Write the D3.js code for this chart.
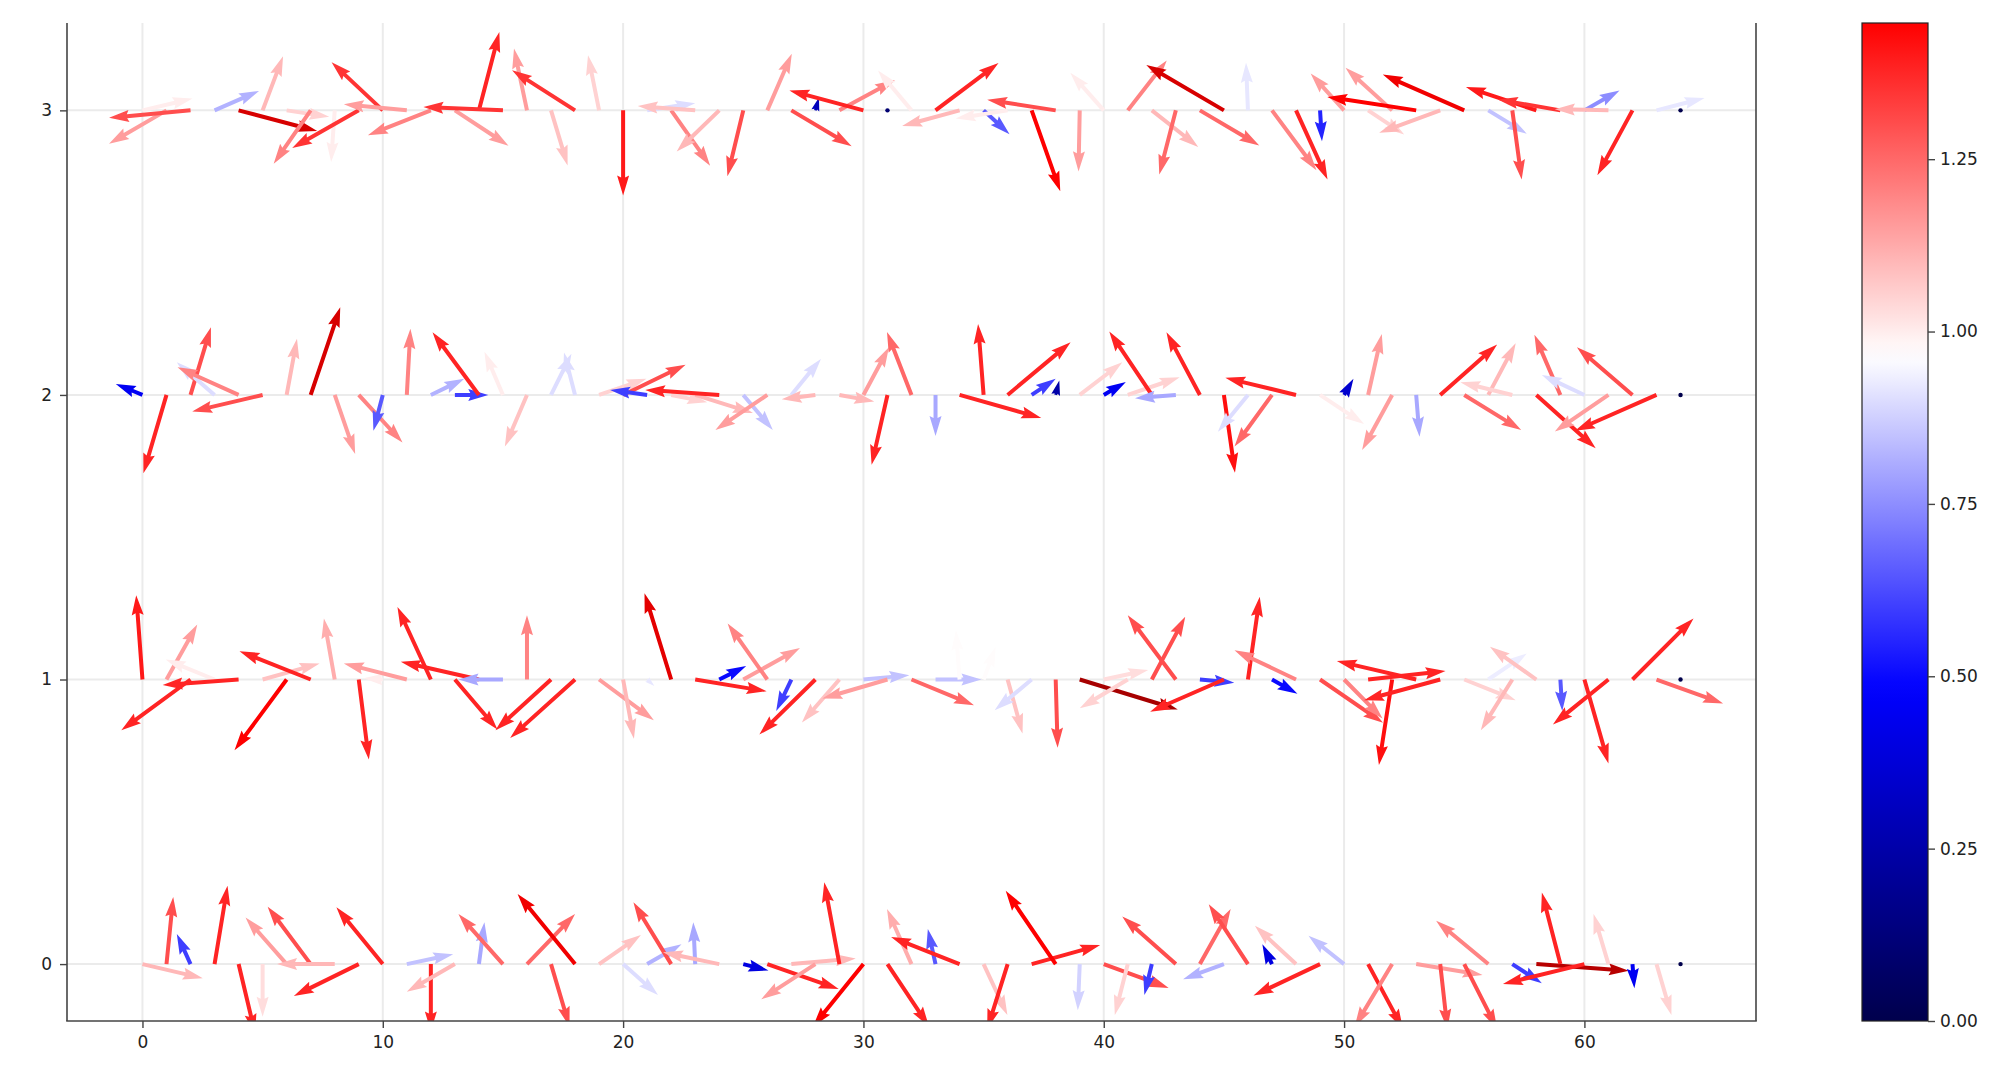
<!DOCTYPE html>
<html>
<head>
<meta charset="utf-8">
<script src="https://cdn.jsdelivr.net/npm/d3@7"></script>
<style>
  body { margin: 0; background: #fff; }
  text { font-family: "DejaVu Sans", sans-serif; }
</style>
</head>
<body>
<div id="chart"></div>
<script>
// grid positions
var xs = d3.range(65);
var rows = [0, 1, 2, 3];

// row y = 0
var u0 = [2.51,0.28,-0.57,0.54,0.69,0,-1.71,-1.79,-2.4,-2.7,-1.93,1.93,0,-2.0,0.23,-1.85,2.0,0.77,-2.39,1.74,
          1.45,1.43,-1.57,-0.08,-2.34,1.05,2.97,2.68,-2.25,-0.63,-2.1,1.73,-1.02,-0.32,-2.85,0.99,-0.85,2.85,-2.08,-0.08,
          2.7,-0.54,-0.31,-2.23,1.28,-1.7,-1.63,-0.4,-1.71,-2.77,-1.48,1.45,-1.56,2.76,0.3,1.37,-2.17,1.23,3.85,-0.77,
          -3.39,-0.62,0.08,0.62,0];
var v0 = [-0.59,2.79,1.25,3.26,-2.9,-2.19,1.94,2.39,0,-1.33,2.36,0.41,-2.8,-1.15,1.74,2.08,2.08,-2.6,2.92,1.21,
          -1.29,0.83,2.57,1.74,0.49,-0.27,-1.04,0.23,-1.46,3.4,-2.6,-2.6,2.29,1.46,1.13,-2.12,-2.7,0.79,3.05,-1.92,
          -0.99,-2.12,-1.29,1.98,2.29,-0.63,2.49,0.83,1.59,-1.31,1.18,-2.7,-2.6,-0.45,-2.7,-2.7,1.8,-0.8,-0.28,2.98,
          -0.83,2.08,-1.01,-2.12,0];
var c0 = [1.1,1.3,0.6,1.38,1.38,1.03,1.15,1.3,1.1,1.38,1.38,0.85,1.38,1.1,0.8,1.25,1.25,1.3,1.5,1.08,
          0.9,0.82,1.3,0.8,1.1,0.4,1.38,1.1,1.15,1.38,1.45,1.38,1.12,0.65,1.38,1.08,1.38,1.38,1.45,0.88,
          1.3,1.05,0.6,1.3,1.25,0.82,1.3,0.4,1.08,1.38,0.85,1.38,1.2,1.15,1.3,1.3,1.2,0.6,1.72,1.38,
          1.38,1.05,0.45,1.05,0];

// row y = 1
var u1 = [-0.26,1.28,-2.88,-2.03,-3.16,2.37,-2.17,-2.96,-0.45,0.42,-0.8,-2.62,-1.39,1.77,-3.25,-1.85,0,-2.31,-2.7,2.28,
          0.45,0.3,-1.11,2.97,1.12,2.36,-1.65,-0.63,-2.33,-1.56,1.91,-2.71,2.6,1.91,-0.15,0.5,0.62,-1.54,0.08,4.08,
          1.85,-2.0,1.39,-2.0,1.43,-3.07,0.49,1.06,-2.56,2.62,1.6,3.22,-0.55,-3.3,-3.17,2.14,1.6,-1.31,-1.93,0.08,
          1.0,-2.31,2.54,2.77,0];
var v1 = [3.51,2.29,-2.11,0.83,-0.23,0.67,-2.94,1.18,2.54,-3.33,0.05,0.67,3.02,-2.08,0.74,0,2.67,-2.11,-2.43,-1.69,
          -2.46,-0.27,3.59,-0.49,0.56,1.31,2.33,-1.31,-2.29,-1.79,0.18,-0.79,-1.07,0,2.05,1.35,-2.25,-1.28,-2.84,-1.25,
          0.4,-1.2,2.61,2.67,-0.13,-1.34,3.44,-0.59,1.22,-1.8,-1.62,0.35,-3.56,0.77,-0.86,-0.86,1.08,-2.11,1.36,-1.31,
          -3.49,-1.87,2.54,-1.0,0];
var c1 = [1.4,1.15,1.38,1.0,1.38,1.08,1.45,1.38,1.12,1.38,1.0,1.15,1.38,1.38,1.38,0.8,1.2,1.38,1.38,1.15,
          1.1,0.92,1.55,1.38,0.5,1.15,1.2,0.6,1.38,1.08,0.85,1.15,1.25,0.85,0.97,0.97,1.08,0.9,1.3,1.78,
          1.03,1.05,1.3,1.3,0.6,1.38,1.38,0.5,1.2,1.3,1.2,1.38,1.42,1.38,1.38,1.05,0.93,1.1,1.08,0.65,
          1.38,1.38,1.38,1.25,0];

// row y = 2
var u2 = [-1.11,-0.96,0.85,-1.57,-2.54,-2.93,0.43,1.23,0.85,1.82,-0.39,0.15,1.39,1.39,-1.93,-0.77,-0.92,0.85,-0.46,1.97,
          2.6,-1.54,1.5,2.4,-3.08,1.23,-2.16,1.23,-1.4,1.45,1.06,-0.66,-1.02,0,3.4,-0.23,2.62,1.0,0.15,1.77,
          0.92,2.16,-1.77,-1.7,-1.39,0.46,-1.25,-1.56,-2.94,1.83,0.39,0.57,-1.25,0.14,2.37,2.37,1.14,-2.16,2.47,-1.08,
          -1.77,-2.23,-2.31,-3.39,0];
var v2 = [0.46,-3.26,2.82,1.36,1.15,-0.69,2.34,3.65,-2.46,-1.98,-1.49,2.75,0.67,0,2.61,1.8,-2.15,1.71,1.77,0.67,
          1.26,0.21,-0.3,-0.75,0.21,-1.46,-1.46,1.5,-0.18,-0.27,1.98,-2.91,2.62,-1.71,-0.96,2.95,2.19,0.67,0.6,1.36,
          0.54,0.74,2.64,-0.14,2.61,-3.24,-1.53,-2.15,0.71,-1.21,0.67,2.54,-2.29,-1.74,2.1,-1.46,2.15,0.53,-2.22,2.5,
          0.83,-1.52,1.98,-1.49,0];
var c2 = [0.45,1.38,1.3,0.9,1.2,1.3,1.1,1.6,1.15,1.2,0.65,1.2,0.82,0.6,1.38,1.0,1.08,0.9,0.9,1.05,
          1.3,0.6,1.05,1.1,1.38,0.85,1.15,0.9,1.1,1.1,1.15,1.38,1.25,0.8,1.38,1.38,1.38,0.6,0.25,1.05,
          0.45,1.05,1.38,0.8,1.38,1.42,0.9,1.25,1.38,1.0,0.35,1.15,1.15,0.8,1.38,1.25,1.1,1.05,1.38,1.25,
          0.9,1.15,1.3,1.38,0];

// row y = 3
var u3 = [2.08,-2.39,-3.39,1.85,3.27,0.85,1.77,-1.54,-0.15,-2.77,-2.13,-2.62,-2.62,2.23,0.85,-3.31,-0.54,0.69,-2.62,-0.46,
          0,2.0,1.62,-2.39,-1.77,-0.66,1.02,2.51,0.15,2.31,-3.08,0,-1.39,2.62,-2.39,1.08,-2.16,1.19,-2.85,-0.05,
          -1.39,1.62,1.93,-0.69,2.47,-3.23,-0.08,1.85,1.31,0.08,-1.39,1.5,-1.94,-3.7,-2.54,-3.39,1.6,0.39,-2.93,-2.6,
          1.46,-2.23,-1.46,2.0,0];
var v3 = [0.49,-1.39,-0.31,0.81,-0.86,2.25,-0.27,-2.22,-2.15,-1.57,2.0,0.25,-1.04,-1.47,3.26,0.14,2.57,-2.29,1.67,2.29,
          -3.54,0.3,-2.3,0.18,-1.71,-2.74,2.36,-1.49,0.54,1.26,0.83,0,1.66,1.97,-0.65,-0.99,-0.34,-3.37,0.44,-2.54,
          1.57,2.08,-1.52,-2.67,-1.46,1.89,1.98,-2.49,-2.88,-1.29,1.53,-1.0,1.77,0.56,-0.93,1.49,-0.97,-2.88,0.97,0.45,
          0.83,0.05,-2.7,0.51,0];
var c3 = [1.0,1.15,1.3,0.82,1.6,1.1,1.05,1.2,1.0,1.35,1.35,1.15,1.2,1.15,1.38,1.35,1.15,1.08,1.35,1.05,
          1.4,0.9,1.2,1.08,1.1,1.3,1.15,1.3,0.3,1.2,1.38,0.1,1.0,1.38,1.1,0.65,1.0,1.45,1.3,1.15,
          1.0,1.2,1.1,1.25,1.25,1.6,0.92,1.2,1.38,0.55,1.15,1.05,1.15,1.45,1.1,1.5,0.85,1.3,1.4,1.35,
          0.75,1.1,1.38,0.92,0];

var xTicks = [0, 10, 20, 30, 40, 50, 60];
var yTicks = [0, 1, 2, 3];
var cbTicks = [0, 0.25, 0.5, 0.75, 1.0, 1.25];

var width = 2013, height = 1083;
var plot = {left: 67, right: 1756, top: 23, bottom: 1021};
var cbox = {left: 1862, right: 1928};

var x = d3.scaleLinear().domain([-3.14, 67.14]).range([plot.left, plot.right]);
var y = d3.scaleLinear().domain([-0.2, 3.307]).range([plot.bottom, plot.top]);
// vector components are in x-axis units
var vec = d3.scaleLinear().domain([0, 1]).range([0, x(1) - x(0)]);

var color = d3.scaleLinear()
    .domain([0, 0.4825, 0.965, 1.4475, 1.93])
    .range(["#00004c", "#0000ff", "#ffffff", "#ff0000", "#800000"])
    .clamp(true);

var svg = d3.select("#chart").append("svg")
    .attr("width", width)
    .attr("height", height);

svg.append("defs").append("clipPath")
    .attr("id", "plotclip")
  .append("rect")
    .attr("x", plot.left)
    .attr("y", plot.top)
    .attr("width", plot.right - plot.left)
    .attr("height", plot.bottom - plot.top);

// gridlines
svg.append("g").selectAll("line.vgrid")
    .data(xTicks).enter()
    .append("line")
    .attr("x1", function(d) { return x(d); })
    .attr("x2", function(d) { return x(d); })
    .attr("y1", plot.top)
    .attr("y2", plot.bottom)
    .attr("stroke", "#ebebeb")
    .attr("stroke-width", 2);

svg.append("g").selectAll("line.hgrid")
    .data(yTicks).enter()
    .append("line")
    .attr("x1", plot.left)
    .attr("x2", plot.right)
    .attr("y1", function(d) { return y(d); })
    .attr("y2", function(d) { return y(d); })
    .attr("stroke", "#ebebeb")
    .attr("stroke-width", 2);

// quiver data
var series = [[u0, v0, c0], [u1, v1, c1], [u2, v2, c2], [u3, v3, c3]];
var arrows = [];
rows.forEach(function(r) {
  var s = series[r];
  xs.forEach(function(i) {
    arrows.push({x: i, y: r, u: s[0][i], v: s[1][i], c: s[2][i]});
  });
});

var shaftW = 4.0, headW = 3 * shaftW, headL = 5 * shaftW, headAL = 4.5 * shaftW;

function arrowPath(d) {
  var x0 = x(d.x), y0 = y(d.y);
  var dx = vec(d.u), dy = -vec(d.v);
  var L = Math.sqrt(dx * dx + dy * dy);
  var a = Math.atan2(dy, dx);
  var k = 1, len = L;
  if (L < headL) { k = L / headL; len = headL; }
  var pts = [[0, -shaftW / 2], [len - headAL, -shaftW / 2], [len - headL, -headW / 2], [len, 0],
             [len - headL, headW / 2], [len - headAL, shaftW / 2], [0, shaftW / 2]];
  var ca = Math.cos(a), sa = Math.sin(a);
  return "M" + pts.map(function(p) {
    var px = p[0] * k, py = p[1] * k;
    return (x0 + px * ca - py * sa).toFixed(2) + "," + (y0 + px * sa + py * ca).toFixed(2);
  }).join("L") + "Z";
}

var quiver = svg.append("g").attr("clip-path", "url(#plotclip)");

quiver.selectAll("path.arrow")
    .data(arrows.filter(function(d) { return d.u !== 0 || d.v !== 0; })).enter()
    .append("path")
    .attr("class", "arrow")
    .attr("d", arrowPath)
    .attr("fill", function(d) { return color(d.c); });

quiver.selectAll("circle.dot")
    .data(arrows.filter(function(d) { return d.u === 0 && d.v === 0; })).enter()
    .append("circle")
    .attr("class", "dot")
    .attr("cx", function(d) { return x(d.x); })
    .attr("cy", function(d) { return y(d.y); })
    .attr("r", 2.2)
    .attr("fill", function(d) { return color(d.c); });

// spines
var spine = "#444";
svg.append("line").attr("x1", plot.left).attr("x2", plot.left)
    .attr("y1", plot.top).attr("y2", plot.bottom)
    .attr("stroke", spine).attr("stroke-width", 1.6);
svg.append("line").attr("x1", plot.right).attr("x2", plot.right)
    .attr("y1", plot.top).attr("y2", plot.bottom)
    .attr("stroke", spine).attr("stroke-width", 1.6);

// axes
var xAxis = svg.append("g")
    .attr("transform", "translate(0," + plot.bottom + ")")
    .call(d3.axisBottom(x).tickValues(xTicks).tickSize(7).tickPadding(8).tickFormat(d3.format("d")));
var yAxis = svg.append("g")
    .attr("transform", "translate(" + plot.left + ",0)")
    .call(d3.axisLeft(y).tickValues(yTicks).tickSize(7).tickPadding(8).tickFormat(d3.format("d")));

[xAxis, yAxis].forEach(function(g) {
  g.select(".domain").remove();
  g.selectAll(".tick line").attr("stroke", spine).attr("stroke-width", 1.4);
  g.selectAll(".tick text").attr("font-size", 17).attr("fill", "#222")
      .attr("font-family", "DejaVu Sans, sans-serif");
});

svg.append("line").attr("x1", plot.left - 0.8).attr("x2", plot.right + 0.8)
    .attr("y1", plot.bottom).attr("y2", plot.bottom)
    .attr("stroke", spine).attr("stroke-width", 1.6);

// colorbar
var cb = d3.scaleLinear().domain([0, 1.4475]).range([plot.bottom, plot.top]);

var grad = svg.select("defs").append("linearGradient")
    .attr("id", "cbgrad")
    .attr("x1", 0).attr("y1", 1).attr("x2", 0).attr("y2", 0);
d3.range(0, 1.0001, 0.02).forEach(function(t) {
  grad.append("stop")
      .attr("offset", t)
      .attr("stop-color", color(t * cb.domain()[1]));
});

svg.append("rect")
    .attr("x", cbox.left)
    .attr("y", plot.top)
    .attr("width", cbox.right - cbox.left)
    .attr("height", plot.bottom - plot.top)
    .attr("fill", "url(#cbgrad)")
    .attr("stroke", "#222")
    .attr("stroke-width", 1.2);

var cbAxis = svg.append("g")
    .attr("transform", "translate(" + cbox.right + ",0)")
    .call(d3.axisRight(cb).tickValues(cbTicks).tickSize(7).tickPadding(5).tickFormat(d3.format(".2f")));
cbAxis.select(".domain").remove();
cbAxis.selectAll(".tick line").attr("stroke", spine).attr("stroke-width", 1.4);
cbAxis.selectAll(".tick text").attr("font-size", 17).attr("fill", "#222")
    .attr("font-family", "DejaVu Sans, sans-serif");
</script>
</body>
</html>
